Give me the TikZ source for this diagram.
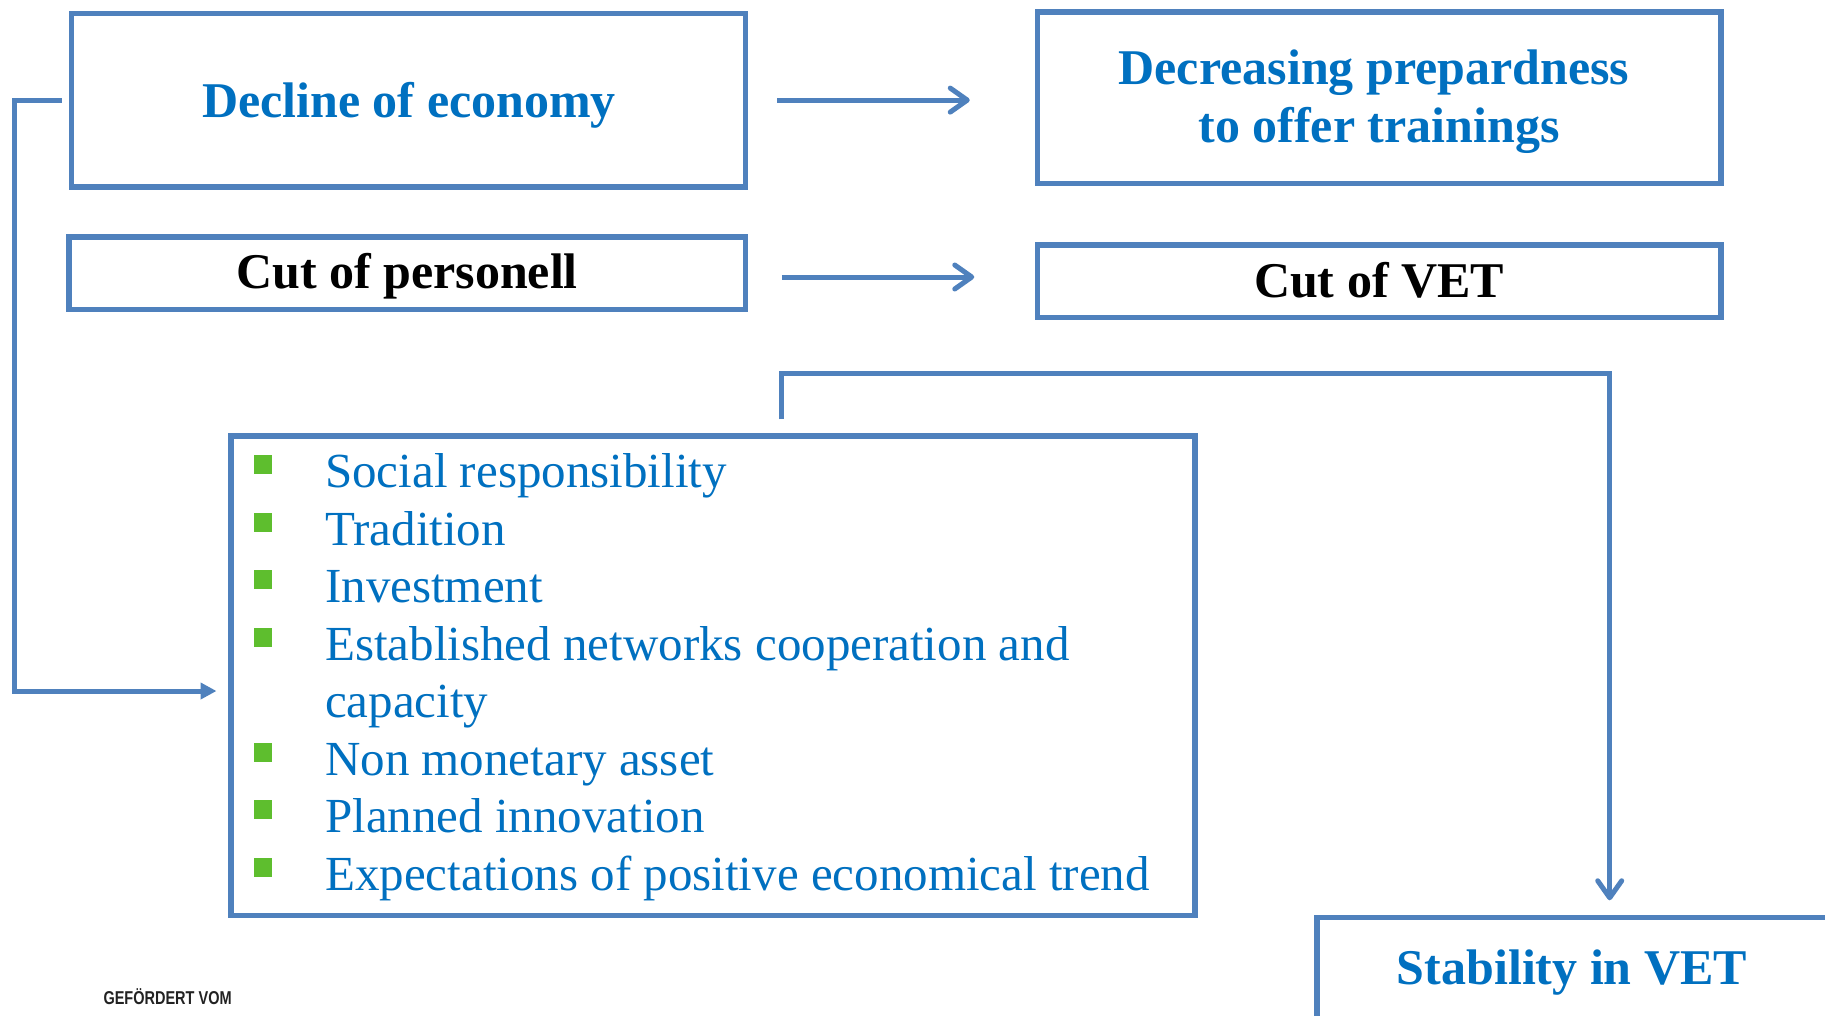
\documentclass[tikz,border=0pt]{standalone}
\usepackage{fontspec}
\setmainfont{Liberation Serif}
\newfontfamily\gefont[FakeStretch=0.78]{Liberation Sans}
\usetikzlibrary{arrows.meta,calc}
\definecolor{boxblue}{RGB}{79,129,189}
\definecolor{txtblue}{RGB}{0,112,192}
\definecolor{bulgreen}{RGB}{94,190,46}
\definecolor{gefgray}{RGB}{34,34,34}
\begin{document}
\begin{tikzpicture}[x=1pt,y=-1pt,
  box/.style={draw=boxblue, line width=5.5pt, inner sep=0pt, outer sep=0pt, rectangle},
  ttl/.style={anchor=base, inner sep=0pt, font=\fontsize{50}{58}\selectfont\bfseries},
  itm/.style={anchor=base west, inner sep=0pt, text=txtblue, font=\fontsize{49}{57.5}\selectfont},
  bul/.style={fill=bulgreen, minimum width=18.5pt, minimum height=19pt, inner sep=0pt, outer sep=0pt},
  conn/.style={draw=boxblue, line width=5pt},
  barb/.style={conn, -{Straight Barb[length=17pt,width=24pt,round]}},
  tri/.style={conn, -{Triangle[length=16pt,width=16pt]}}
]
\useasboundingbox (0,0) rectangle (1825,1015);
\clip (0,0) rectangle (1825,1015);
\fill[white] (0,0) rectangle (1825,1015);

% boxes
\node[box, minimum width=674.2pt, minimum height=173.7pt] (box1) at (408.55,100.1) {};
\node[box, minimum width=676.6pt, minimum height=72.5pt] (box2) at (407.35,273) {};
\node[box, minimum width=683.5pt, minimum height=171.4pt] (box3) at (1379.2,97.75) {};
\node[box, minimum width=683.5pt, minimum height=72.5pt] (box4) at (1379.2,281) {};
\node[box, minimum width=964.1pt, minimum height=479.5pt] (list) at (712.8,675.5) {};
\node[box, minimum width=540pt, minimum height=200pt] (stab) at (1586.75,1017.55) {};

% titles
\node[ttl, text=txtblue] (t1) at (409,117) {Decline of economy};
\node[ttl] (t2) at (407,288.5) {Cut of personell};
\node[ttl, text=txtblue] (t3a) at (1374,84.5) {Decreasing prepardness};
\node[ttl, text=txtblue] (t3b) at (1379,142) {to offer trainings};
\node[ttl] (t4) at (1379,297.5) {Cut of VET};
\node[ttl, text=txtblue] (t6) at (1572,984) {Stability in VET};

% list items
\node[itm] (i1) at (325,487.7) {Social responsibility};
\node[itm] (i2) at (325,545.2) {Tradition};
\node[itm] (i3) at (325,602.7) {Investment};
\node[itm] (i4) at (325,660.2) {Established networks cooperation and};
\node[itm] (i4b) at (325,717.7) {capacity};
\node[itm] (i5) at (325,775.2) {Non monetary asset};
\node[itm] (i6) at (325,832.7) {Planned innovation};
\node[itm] (i7) at (325,890.2) {Expectations of positive economical trend};

% bullets
\node[bul] (b1) at (262.75,464.5) {};
\node[bul] (b2) at (262.75,522) {};
\node[bul] (b3) at (262.75,579.5) {};
\node[bul] (b4) at (262.75,637) {};
\node[bul] (b5) at (262.75,752) {};
\node[bul] (b6) at (262.75,809.5) {};
\node[bul] (b7) at (262.75,867) {};

% footer
\node[anchor=base west, inner sep=0pt, text=gefgray, font=\gefont\bfseries\fontsize{18.6}{20}\selectfont] (gef) at (103.3,1004.3) {GEFÖRDERT VOM};

% connectors
\draw[barb] ($(box1.east)+(31.6,0)$) -- ($(box1.east -| box3.west)+(-67.7,0)$);
\draw[barb] ($(box2.east)+(36.1,4)$) -- ($(box4.west)+(-63.2,-4)$);

\coordinate (lcB) at (14,691);
\coordinate (lcT) at (216.5,691);
\draw[tri] ($(box1.west)+(-9.5,0)$) -| (lcB) -- (lcT);

\coordinate (brk) at (1609.7,373.6);
\draw[barb] ($(list.north)+(68.2,-16.5)$) |- (brk) -- ($(brk |- stab.north)+(0,-17.3)$);
\end{tikzpicture}
\end{document}
